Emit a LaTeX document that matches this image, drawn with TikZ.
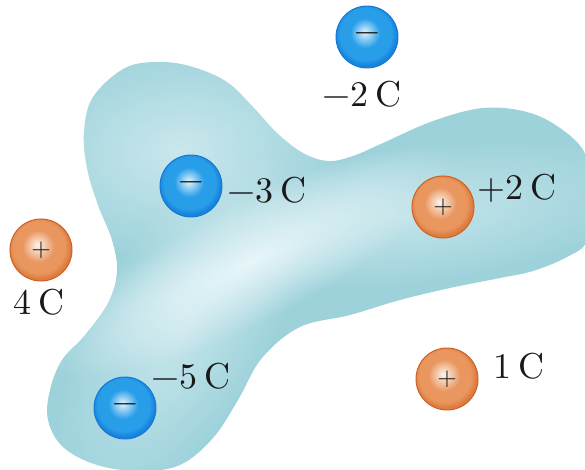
\documentclass[tikz,border=0pt]{standalone}
\usepackage{fontspec}
\setmainfont{lmroman10-regular.otf}
\usetikzlibrary{shadings,fadings}
\definecolor{blob}{RGB}{157,210,219}
\definecolor{blobhi}{RGB}{232,246,249}
\definecolor{bluemid}{RGB}{40,158,233}
\definecolor{blueedge}{RGB}{24,130,220}
\definecolor{bluehi}{RGB}{226,244,253}
\definecolor{blueline}{RGB}{20,120,210}
\definecolor{orgmid}{RGB}{233,150,95}
\definecolor{orgedge}{RGB}{222,124,64}
\definecolor{orghi}{RGB}{254,244,236}
\definecolor{orgline}{RGB}{205,98,38}
\definecolor{txt}{RGB}{25,25,25}
\pgfdeclareradialshading{blueball}{\pgfpoint{-2bp}{4bp}}{color(0bp)=(bluehi); color(12bp)=(bluemid); color(21bp)=(bluemid); color(25bp)=(blueedge); color(50bp)=(blueedge)}
\pgfdeclareradialshading{orgball}{\pgfpoint{-3bp}{4bp}}{color(0bp)=(orghi); color(13bp)=(orgmid); color(21bp)=(orgmid); color(25bp)=(orgedge); color(50bp)=(orgedge)}
\tikzfading[name=glow, inner color=transparent!0, outer color=transparent!100]
\tikzset{
  negball/.style={circle, minimum size=62pt, inner sep=0pt, shade, shading=blueball, draw=blueline, line width=0.9pt, text=txt, font=\fontsize{33}{33}\selectfont},
  posball/.style={circle, minimum size=62pt, inner sep=0pt, shade, shading=orgball, draw=orgline, line width=1pt, text=txt, font=\fontsize{25}{25}\selectfont},
  lab/.style={anchor=base, inner sep=0pt, text=txt, font=\fontsize{36}{40}\selectfont},
  glowfill/.style={fill=blobhi, path fading=glow, fit fading=true}
}
\newcommand{\gapc}{\hspace{0.22em}}
\begin{document}
\begin{tikzpicture}[x=1pt, y=-1pt]
\useasboundingbox (0,0) rectangle (585,470);
\clip (0,0) rectangle (585,470);
% blob
\begin{scope}
  \clip plot[smooth cycle, tension=0.6] coordinates {
    (160,62) (193,67) (227,82) (253,107) (277,133) (303,153) (328,161) (353,156)
    (383,143) (433,121) (483,108) (527,112) (560,128) (585,153) (598,195) (588,240)
    (567,257) (533,271) (500,278) (450,288) (400,300) (350,315) (300,327) (262,358)
    (238,400) (213,438) (180,465) (140,471) (97,465) (63,447) (48,420) (50,390)
    (62,360) (85,335) (108,303) (117,272) (112,240) (98,205) (87,168) (84,132)
    (93,97) (125,68)};
  \fill[blob] (-10,-10) rectangle (600,480);
  \path[glowfill, opacity=0.55, transform canvas={rotate around={60:(180,330)}}] (180,330) ellipse (200 and 90);
  \path[glowfill, opacity=0.6, transform canvas={rotate around={5:(180,150)}}] (180,150) ellipse (170 and 110);
  \path[glowfill, transform canvas={rotate around={27:(250,262)}}] (250,262) ellipse (230 and 60);
  \path[glowfill, opacity=0.5, transform canvas={rotate around={8:(420,215)}}] (420,215) ellipse (240 and 70);
\end{scope}
% charges
\node[negball] (qa) at (367,37) {−};
\node[negball] (qb) at (191,186) {−};
\node[posball] (qc) at (41,250) {+};
\node[posball] (qd) at (443,207) {+};
\node[negball] (qe) at (125,408) {−};
\node[posball] (qf) at (447,379) {+};
% labels
\node[lab] (la) at (362,107) {−2\gapc C};
\node[lab] (lb) at (267,202) {−3\gapc C};
\node[lab] (lc) at (39,314) {4\gapc C};
\node[lab] (ld) at (517,200) {+2\gapc C};
\node[lab] (le) at (191,388) {−5\gapc C};
\node[lab] (lf) at (519,378) {1\gapc C};
\end{tikzpicture}
\end{document}
